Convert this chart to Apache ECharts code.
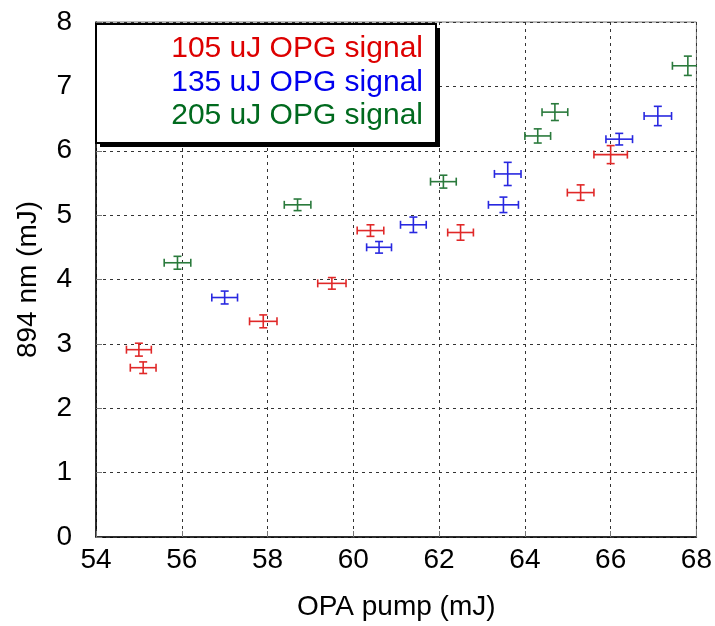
<!DOCTYPE html>
<html>
<head>
<meta charset="utf-8">
<script src="https://cdn.jsdelivr.net/npm/echarts@6/dist/echarts.min.js"></script>
<style>html,body{margin:0;padding:0;background:#fff}#c{width:715px;height:626px}</style>
</head>
<body>
<div id="c"></div>
<script>
// ---- data ----
const seriesNames = ['105 uJ OPG signal', '135 uJ OPG signal', '205 uJ OPG signal'];

const redX    = [55.0, 55.1, 57.9, 59.5, 60.4, 62.5, 65.3, 66.0];
const redY    = [2.91, 2.63, 3.35, 3.94, 4.76, 4.73, 5.35, 5.94];
const redXErr = [0.29, 0.30, 0.32, 0.33, 0.31, 0.30, 0.31, 0.39];
const redYErr = [0.10, 0.09, 0.10, 0.09, 0.09, 0.12, 0.12, 0.14];

const blueX    = [57.0, 60.6, 61.4, 63.5, 63.6, 66.2, 67.1];
const blueY    = [3.72, 4.50, 4.85, 5.16, 5.64, 6.18, 6.54];
const blueXErr = [0.30, 0.29, 0.30, 0.35, 0.31, 0.31, 0.32];
const blueYErr = [0.10, 0.09, 0.12, 0.12, 0.18, 0.09, 0.15];

const greenX    = [55.9, 58.7, 62.1, 64.3, 64.7, 67.8];
const greenY    = [4.26, 5.16, 5.52, 6.23, 6.60, 7.32];
const greenXErr = [0.31, 0.31, 0.30, 0.30, 0.30, 0.36];
const greenYErr = [0.10, 0.09, 0.10, 0.11, 0.13, 0.15];

const xTicks = [54, 56, 58, 60, 62, 64, 66, 68];
const yTicks = [0, 1, 2, 3, 4, 5, 6, 7, 8];

// ---- styles ----
const barColors  = ['#e02828', '#2828e0', '#2a7a3c'];
const textColors = ['#dd0000', '#0000ee', '#006a1e'];
const FONT = '"Liberation Sans", Arial, sans-serif';

function makeData(xs, ys, xe, ye) {
  return xs.map((x, i) => [x, ys[i], xe[i], ye[i]]);
}

function errRender(color) {
  return function (params, api) {
    const x = api.value(0), y = api.value(1), dx = api.value(2), dy = api.value(3);
    const c = api.coord([x, y]);
    const l = api.coord([x - dx, y]);
    const r = api.coord([x + dx, y]);
    const t = api.coord([x, y + dy]);
    const b = api.coord([x, y - dy]);
    const cap = 4;
    const style = { stroke: color, lineWidth: 1.6 };
    const line = (x1, y1, x2, y2) => ({ type: 'line', shape: { x1, y1, x2, y2 }, style });
    return {
      type: 'group',
      children: [
        line(l[0], c[1], r[0], c[1]),
        line(l[0], c[1] - cap, l[0], c[1] + cap),
        line(r[0], c[1] - cap, r[0], c[1] + cap),
        line(c[0], t[1], c[0], b[1]),
        line(c[0] - cap, t[1], c[0] + cap, t[1]),
        line(c[0] - cap, b[1], c[0] + cap, b[1])
      ]
    };
  };
}

const all = [
  makeData(redX, redY, redXErr, redYErr),
  makeData(blueX, blueY, blueXErr, blueYErr),
  makeData(greenX, greenY, greenXErr, greenYErr)
];

const gridLine = { show: true, lineStyle: { color: '#333', type: [3, 4], width: 1 } };

const chart = echarts.init(document.getElementById('c'), null, { renderer: 'canvas' });
chart.setOption({
  animation: false,
  backgroundColor: '#fff',
  textStyle: { fontFamily: FONT },
  grid: { left: 96, right: 17, top: 22, bottom: 89, show: true, borderColor: '#777', borderWidth: 1 },
  xAxis: {
    type: 'value', min: 54, max: 68, interval: 2,
    name: 'OPA pump (mJ)', nameLocation: 'middle', nameGap: 56,
    nameTextStyle: { fontSize: 28, color: '#000', fontFamily: FONT },
    axisLine: { show: true, onZero: false, lineStyle: { color: '#000', width: 1.5 } },
    axisTick: { show: true, inside: true, length: 6, lineStyle: { color: '#777' } },
    axisLabel: { fontSize: 28, color: '#000', margin: 9, fontFamily: FONT,
      formatter: v => xTicks.includes(v) ? String(v) : '' },
    splitLine: gridLine
  },
  yAxis: {
    type: 'value', min: 0, max: 8, interval: 1,
    name: '894 nm (mJ)', nameLocation: 'middle', nameGap: 54, nameRotate: 90,
    nameTextStyle: { fontSize: 28, color: '#000', fontFamily: FONT },
    axisLine: { show: true, onZero: false, lineStyle: { color: '#000', width: 1.5 } },
    axisTick: { show: true, inside: true, length: 6, lineStyle: { color: '#777' } },
    axisLabel: { fontSize: 28, color: '#000', margin: 24, fontFamily: FONT,
      formatter: v => yTicks.includes(v) ? String(v) : '' },
    splitLine: gridLine
  },
  series: all.map((d, i) => ({
    name: seriesNames[i],
    type: 'custom',
    renderItem: errRender(barColors[i]),
    encode: { x: 0, y: 1 },
    data: d,
    clip: true,
    z: 5
  })),
  graphic: [
    { type: 'rect', left: 100, top: 28, shape: { width: 340, height: 119 }, style: { fill: '#000' }, z: 10 },
    { type: 'rect', left: 95, top: 23, shape: { width: 340, height: 119 }, style: { fill: '#fff', stroke: '#000', lineWidth: 2 }, z: 11 },
    ...seriesNames.map((n, i) => ({
      type: 'text', z: 12,
      style: { text: n, x: 423, y: 49 + i * 33.5, textAlign: 'right', textVerticalAlign: 'middle',
        fill: textColors[i], font: '30px ' + FONT }
    }))
  ]
});
</script>
</body>
</html>
